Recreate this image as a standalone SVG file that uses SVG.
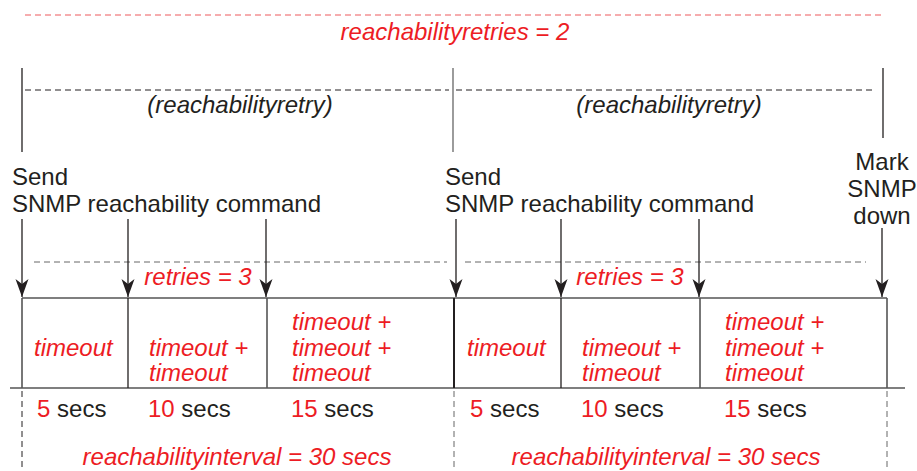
<svg xmlns="http://www.w3.org/2000/svg" width="917" height="471" viewBox="0 0 917 471">
<defs>
<marker id="ah" markerWidth="19" markerHeight="14" refX="18" refY="7" orient="auto" markerUnits="userSpaceOnUse" viewBox="0 0 19 14">
<path d="M0,0.5 L18,7 L0,13.5 L5,7 Z" fill="#231f20"/>
</marker>
<style>
.t{font-family:"Liberation Sans",Arial,sans-serif;font-size:24px;fill:#231f20}
.r{font-family:"Liberation Sans",Arial,sans-serif;font-size:24px;fill:#ed1c24;font-style:italic}
.rn{fill:#ed1c24}
.ti{font-family:"Liberation Sans",Arial,sans-serif;font-size:24px;fill:#231f20;font-style:italic}
.v{stroke:#231f20;stroke-width:1.3;fill:none}
.d{stroke:#231f20;stroke-width:1;stroke-dasharray:6,4;fill:none}
.dg{stroke:#666;stroke-width:1;stroke-dasharray:6,4;fill:none}
.dr{stroke:#ee5a5f;stroke-width:1.1;stroke-dasharray:6,4;fill:none}
.a{stroke:#231f20;stroke-width:1.3;fill:none;marker-end:url(#ah)}
.bx{stroke:#555;stroke-width:1.6;fill:none}
</style>
</defs>
<g id="connectors">
<line class="dr" x1="25" y1="15" x2="885" y2="15"/>
<line class="v" x1="22" y1="68" x2="22" y2="152"/>
<line class="v" x1="453" y1="68" x2="453" y2="152" style="stroke:#666"/>
<line class="v" x1="883" y1="68" x2="883" y2="138"/>
<line class="d" x1="25" y1="90" x2="449" y2="90"/>
<line class="d" x1="456" y1="90" x2="876" y2="90"/>
<line class="dg" x1="34" y1="262" x2="447" y2="262"/>
<line class="dg" x1="465" y1="262" x2="866" y2="262"/>
<line class="a" x1="22" y1="219" x2="22" y2="297"/>
<line class="a" x1="128" y1="219" x2="128" y2="297"/>
<line class="a" x1="266" y1="219" x2="266" y2="297"/>
<line class="a" x1="456" y1="219" x2="456" y2="297"/>
<line class="a" x1="561" y1="219" x2="561" y2="297"/>
<line class="a" x1="699" y1="219" x2="699" y2="297"/>
<line class="a" x1="882" y1="228" x2="882" y2="297"/>
<line class="dg" x1="22" y1="391" x2="22" y2="471" style="stroke:#231f20"/>
<line class="dg" x1="454" y1="391" x2="454" y2="471"/>
<line class="dg" x1="887" y1="391" x2="887" y2="471"/>
</g>
<g id="timeline">
<line class="bx" x1="22" y1="298" x2="887" y2="298"/>
<line class="bx" x1="10" y1="388" x2="905" y2="388"/>
<line class="bx" x1="22" y1="298" x2="22" y2="388"/>
<line class="v" x1="128" y1="298" x2="128" y2="388"/>
<line class="bx" x1="267" y1="298" x2="267" y2="388"/>
<line class="v" x1="454" y1="298" x2="454" y2="388" style="stroke-width:2"/>
<line class="v" x1="561" y1="298" x2="561" y2="388"/>
<line class="bx" x1="700" y1="298" x2="700" y2="388"/>
<line class="bx" x1="887" y1="298" x2="887" y2="388"/>
</g>
<g id="title">
<text class="r" x="455" y="40" text-anchor="middle">reachabilityretries = 2</text>
</g>
<g id="retry1">
<text class="ti" x="240" y="113" text-anchor="middle">(reachabilityretry)</text>
</g>
<g id="retry2">
<text class="ti" x="669" y="113" text-anchor="middle">(reachabilityretry)</text>
</g>
<g id="send1">
<text class="t" x="12" y="185">Send</text>
<text class="t" x="12" y="212">SNMP reachability command</text>
</g>
<g id="send2">
<text class="t" x="445" y="185">Send</text>
<text class="t" x="445" y="212">SNMP reachability command</text>
</g>
<g id="mark">
<text class="t" x="882" y="170" text-anchor="middle">Mark</text>
<text class="t" x="882" y="197" text-anchor="middle">SNMP</text>
<text class="t" x="882" y="224" text-anchor="middle">down</text>
</g>
<g id="retries1"><text class="r" x="198" y="285" text-anchor="middle">retries = 3</text></g>
<g id="retries2"><text class="r" x="630" y="285" text-anchor="middle">retries = 3</text></g>
<g id="cells1">
<text class="r" x="34" y="356">timeout</text>
<text class="r" x="149" y="356">timeout +</text>
<text class="r" x="149" y="381">timeout</text>
<text class="r" x="292" y="330">timeout +</text>
<text class="r" x="292" y="356">timeout +</text>
<text class="r" x="292" y="381">timeout</text>
</g>
<g id="cells2">
<text class="r" x="467" y="356">timeout</text>
<text class="r" x="582" y="356">timeout +</text>
<text class="r" x="582" y="381">timeout</text>
<text class="r" x="725" y="330">timeout +</text>
<text class="r" x="725" y="356">timeout +</text>
<text class="r" x="725" y="381">timeout</text>
</g>
<g id="secs1">
<text class="t" x="37" y="417"><tspan class="rn">5</tspan> secs</text>
<text class="t" x="148" y="417"><tspan class="rn">10</tspan> secs</text>
<text class="t" x="291" y="417"><tspan class="rn">15</tspan> secs</text>
</g>
<g id="secs2">
<text class="t" x="470" y="417"><tspan class="rn">5</tspan> secs</text>
<text class="t" x="581" y="417"><tspan class="rn">10</tspan> secs</text>
<text class="t" x="724" y="417"><tspan class="rn">15</tspan> secs</text>
</g>
<g id="interval1"><text class="r" x="237" y="465" text-anchor="middle">reachabilityinterval = 30 secs</text></g>
<g id="interval2"><text class="r" x="666" y="465" text-anchor="middle">reachabilityinterval = 30 secs</text></g>
</svg>
